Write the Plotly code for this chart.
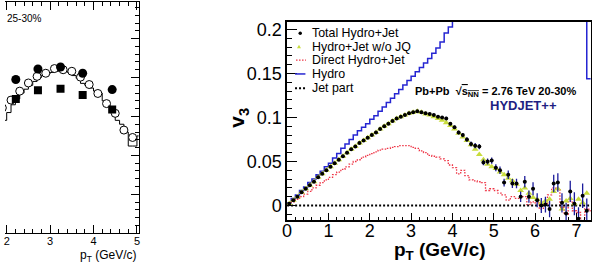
import plotly.graph_objects as go

W, H = 592, 264
FONT = "Liberation Sans, Arial, Helvetica, sans-serif"

# ---------------- main panel data (pT bins of 0.1 GeV/c) ----------------
BIN = 0.1
total_v3 = [0.002,0.006,0.010,0.015,0.019,0.023,0.027,0.032,0.036,0.040,
            0.044,0.048,0.052,0.056,0.060,0.064,0.067,0.071,0.074,0.077,
            0.080,0.083,0.087,0.090,0.093,0.096,0.099,0.101,0.103,0.105,
            0.106,0.107,0.106,0.105,0.104,0.103,0.101,0.100,0.099,0.093,
            0.089,0.083,0.080,0.075,0.070,0.068,0.067,0.049,0.050,0.051,
            0.043,0.040,0.026,0.035,0.025,0.025,0.010,0.027,0.010,0.019,
            0.006,0.000,0.001,-0.004,0.025,0.026,0.003,-0.009,0.016,0.002,
            -0.015,0.011,-0.006]
total_err = [0.0004,0.0004,0.0004,0.0004,0.0004,0.0004,0.0004,0.0004,0.0004,0.0004,
             0.0005,0.0005,0.0005,0.0005,0.0005,0.0005,0.0005,0.0005,0.0005,0.0005,
             0.0006,0.0006,0.0006,0.0006,0.0006,0.0007,0.0007,0.0007,0.0008,0.0008,
             0.0010,0.0010,0.0010,0.0012,0.0012,0.0014,0.0015,0.0016,0.0018,0.0020,
             0.0020,0.0022,0.0024,0.0026,0.0028,0.0030,0.0030,0.0032,0.0034,0.0036,
             0.0040,0.0042,0.0045,0.0048,0.0050,0.0055,0.0060,0.0065,0.0070,0.0075,
             0.0080,0.0085,0.0090,0.0095,0.0100,0.0105,0.0110,0.0120,0.0120,0.0130,
             0.0130,0.0140,0.0140]
nojq_v3 = [0.002,0.006,0.010,0.015,0.019,0.023,0.027,0.032,0.036,0.040,
           0.044,0.048,0.052,0.056,0.060,0.064,0.067,0.071,0.074,0.077,
           0.080,0.083,0.087,0.090,0.093,0.096,0.099,0.101,0.103,0.105,
           0.106,0.107,0.106,0.104,0.103,0.101,0.099,0.097,0.094,0.091,
           0.087,0.082,0.078,0.074,0.069,0.064,0.058,0.052,0.047,0.044,
           0.042,0.038,0.035,0.031,0.028,0.024,0.017,0.020,0.014,0.009,
           0.007,0.003,0.005,0.007,0.016,0.019,-0.004,0.005,0.008,0.002,
           0.007,0.003,0.014]
direct_v3 = [0.001,0.004,0.007,0.010,0.013,0.016,0.020,0.023,0.026,0.029,
             0.032,0.035,0.038,0.041,0.044,0.047,0.050,0.052,0.055,0.057,
             0.059,0.061,0.063,0.064,0.065,0.066,0.067,0.068,0.068,0.068,
             0.066,0.065,0.062,0.060,0.057,0.056,0.055,0.053,0.051,0.046,
             0.043,0.036,0.040,0.034,0.029,0.028,0.027,0.026,0.017,0.019,
             0.017,0.014,0.012,0.006,0.010,0.008,0.009,0.010,0.001,0.004,
             0.003,-0.004,0.001,0.012,0.020,0.018,-0.002,-0.010,0.005,-0.006,
             -0.008,-0.017,-0.003,-0.006]
hydro_v3 = [0.003,0.008,0.012,0.017,0.021,0.026,0.030,0.035,0.039,0.044,
            0.048,0.054,0.059,0.065,0.070,0.075,0.080,0.085,0.089,0.093,
            0.098,0.102,0.107,0.112,0.117,0.122,0.127,0.132,0.137,0.142,
            0.147,0.152,0.157,0.162,0.167,0.173,0.179,0.186,0.196,0.203]
hydro_offscale_v3 = 0.26      # continues above the frame
hydro_last_edge = 7.25
hydro_last_v3 = 0.144
jet_part_pt = [0.0, 7.4]
jet_part_v3 = [0.0, 0.0]

pt_centers = [round(BIN * (i + 0.5), 3) for i in range(len(total_v3))]
direct_edges = [round(BIN * i, 3) for i in range(len(direct_v3) + 1)]
hydro_edges = [round(BIN * i, 3) for i in range(len(hydro_v3) + 1)]

# ---------------- left (cropped) panel data ----------------
lp_full_pt = [2.21, 2.72, 3.24, 3.75, 4.43]
lp_full_v = [0.0395, 0.0422, 0.0427, 0.0411, 0.0369]
lp_sq_pt = [2.21, 2.72, 3.24, 3.75, 4.43]
lp_sq_v = [0.0345, 0.0367, 0.0371, 0.0355, 0.0318]
lp_open_pt = [1.9, 2.1, 2.3, 2.5, 2.7, 2.9, 3.1, 3.3, 3.5, 3.7, 3.9, 4.1, 4.3, 4.5, 4.7, 4.9]
lp_open_v = [0.0322, 0.0342, 0.0365, 0.0386, 0.0403, 0.0411, 0.0423, 0.0420, 0.0416,
             0.0401, 0.0382, 0.0359, 0.0333, 0.0308, 0.0265, 0.0246]
lp_step_start = 1.8
lp_step_v = [0.028, 0.029, 0.031, 0.033, 0.0345, 0.036, 0.037, 0.038, 0.039, 0.040,
             0.0405, 0.041, 0.0413, 0.0416, 0.0417, 0.0416, 0.0413, 0.0405, 0.0398, 0.0385,
             0.038, 0.0373, 0.0365, 0.036, 0.034, 0.0327, 0.031, 0.029, 0.028, 0.026,
             0.0224, 0.0224, 0.025]
lp_step_edges = [round(lp_step_start + BIN * i, 3) for i in range(len(lp_step_v) + 1)]

fig = go.Figure()

# left panel
fig.add_trace(go.Scatter(x=lp_step_edges, y=lp_step_v + [lp_step_v[-1]], mode="lines",
                         line=dict(color="black", width=1, shape="hv"),
                         xaxis="x2", yaxis="y2", hoverinfo="skip"))
fig.add_trace(go.Scatter(x=lp_open_pt, y=lp_open_v, mode="markers",
                         marker=dict(symbol="circle", size=8, color="white",
                                     line=dict(color="black", width=1)),
                         xaxis="x2", yaxis="y2"))
fig.add_trace(go.Scatter(x=lp_sq_pt, y=lp_sq_v, mode="markers",
                         marker=dict(symbol="square", size=8, color="black"),
                         xaxis="x2", yaxis="y2"))
fig.add_trace(go.Scatter(x=lp_full_pt, y=lp_full_v, mode="markers",
                         marker=dict(symbol="circle", size=9, color="black"),
                         xaxis="x2", yaxis="y2"))

# main panel
BLUE = "#2626d2"
RED = "#ee3344"
GREEN = "#c8dc3c"
fig.add_trace(go.Scatter(
    x=hydro_edges + [hydro_last_edge, hydro_last_edge + BIN],
    y=hydro_v3 + [hydro_offscale_v3, hydro_last_v3, hydro_last_v3],
    mode="lines", line=dict(color=BLUE, width=1.5, shape="hv"), name="Hydro"))
fig.add_trace(go.Scatter(
    x=direct_edges, y=direct_v3 + [direct_v3[-1]], mode="lines",
    line=dict(color=RED, width=1.3, shape="hv", dash="1.5px,1.5px"), name="Direct Hydro+Jet"))
fig.add_trace(go.Scatter(
    x=jet_part_pt, y=jet_part_v3, mode="lines",
    line=dict(color="black", width=2, dash="2px,2px"), name="Jet part"))
fig.add_trace(go.Scatter(
    x=pt_centers, y=nojq_v3, mode="markers",
    marker=dict(symbol="triangle-up", size=6, color=GREEN), name="Hydro+Jet w/o JQ"))
fig.add_trace(go.Scatter(
    x=pt_centers, y=total_v3, mode="markers",
    marker=dict(symbol="circle", size=4, color="black"),
    error_y=dict(type="data", array=total_err, color="#1c1c9c", thickness=1.3, width=0),
    error_x=dict(type="constant", value=0.035, color="black", thickness=1, width=0),
    name="Total Hydro+Jet"))

def px(x):
    return x / W

def py(y):
    return 1 - y / H

axis_common = dict(showgrid=False, zeroline=False, showline=True, linecolor="black",
                   ticks="inside", tickcolor="black")

fig.update_layout(
    width=W, height=H, margin=dict(l=0, r=0, t=0, b=0),
    paper_bgcolor="white", plot_bgcolor="white", showlegend=False,
    font=dict(family=FONT, color="black"),
    xaxis=dict(axis_common, domain=[px(285), px(591.7)], range=[0, 7.345], anchor="y",
               mirror=True, linewidth=1.5, tickvals=[0, 1, 2, 3, 4, 5, 6, 7], ticklen=8,
               tickfont=dict(size=18), ticklabelstandoff=-7,
               minor=dict(dtick=0.2, tick0=0, ticklen=4, ticks="inside", tickcolor="black")),
    yaxis=dict(axis_common, domain=[py(220), py(20)], range=[-0.0169, 0.2088], anchor="x",
               mirror=True, linewidth=1.5, tickvals=[0, 0.05, 0.1, 0.15, 0.2],
               ticktext=["0", "0.05", "0.1", "0.15", "0.2"], ticklen=10,
               tickfont=dict(size=18),
               minor=dict(dtick=0.01, tick0=0, ticklen=5, ticks="inside", tickcolor="black")),
    xaxis2=dict(axis_common, domain=[0, px(135)], range=[1.961, 5.039], anchor="y2",
                mirror="ticks", linewidth=1.2, tickvals=[2, 3, 4, 5], ticklen=8,
                tickfont=dict(size=11), ticklabelstandoff=-3,
                minor=dict(dtick=0.2, tick0=0, ticklen=4, ticks="inside", tickcolor="black")),
    yaxis2=dict(axis_common, domain=[py(233), 1.0], range=[0, 0.0594], anchor="x2",
                side="right", linewidth=1.2, dtick=0.01, ticklen=8, showticklabels=False,
                minor=dict(dtick=0.002, tick0=0, ticklen=4, ticks="inside", tickcolor="black")),
)

ann = []
def text(x, y, s, size, xanchor="left", color="black", angle=0):
    ann.append(dict(x=px(x), y=py(y), xref="paper", yref="paper", text=s, showarrow=False,
                    xanchor=xanchor, yanchor="middle", textangle=angle, borderpad=0,
                    font=dict(size=size, color=color, family=FONT)))

# axis titles
text(487, 251, "<b>p<sub>T</sub> (GeV/c)</b>", 19, xanchor="right")
text(236, 117, "<b>v<sub>3</sub></b>", 21, xanchor="center", angle=-90)
# info text
text(496, 90.5, "<b>Pb+Pb  √<span style='text-decoration:overline'>s<sub>NN</sub></span> = 2.76 TeV 20-30%</b>",
     11, xanchor="center")
text(523.5, 104.5, "<b>HYDJET++</b>", 13, xanchor="center", color="#1e1e82")
# left panel texts
text(1.5, 16.7, "25-30%", 10)
text(133.5, 256, "p<sub>T</sub> (GeV/c)", 12, xanchor="right")

# legend (drawn manually)
leg_rows = [31.5, 45, 58.5, 72.5, 87]
leg_labels = ["Total Hydro+Jet", "Hydro+Jet w/o JQ", "Direct Hydro+Jet", "Hydro", "Jet part"]
for yy, lab in zip(leg_rows, leg_labels):
    text(309, yy, lab, 12.4)

shapes = []
shapes.append(dict(type="circle", xref="paper", yref="paper",
                   x0=px(296.5), x1=px(300), y0=py(33.2), y1=py(29.8),
                   fillcolor="black", line=dict(width=0)))
shapes.append(dict(type="path", xref="paper", yref="paper",
                   path=f"M {px(295)},{py(46.5)} L {px(299)},{py(46.5)} L {px(297)},{py(43)} Z",
                   fillcolor=GREEN, line=dict(width=0)))
shapes.append(dict(type="line", xref="paper", yref="paper", x0=px(294), x1=px(304),
                   y0=py(58.5), y1=py(58.5), line=dict(color=RED, width=1.3, dash="1.5px,1.5px")))
shapes.append(dict(type="line", xref="paper", yref="paper", x0=px(293), x1=px(303.5),
                   y0=py(72.5), y1=py(72.5), line=dict(color=BLUE, width=1.5)))
shapes.append(dict(type="line", xref="paper", yref="paper", x0=px(293), x1=px(304),
                   y0=py(87), y1=py(87), line=dict(color="black", width=2, dash="2px,2px")))

fig.update_layout(annotations=ann, shapes=shapes)
fig.write_html("out.html")
